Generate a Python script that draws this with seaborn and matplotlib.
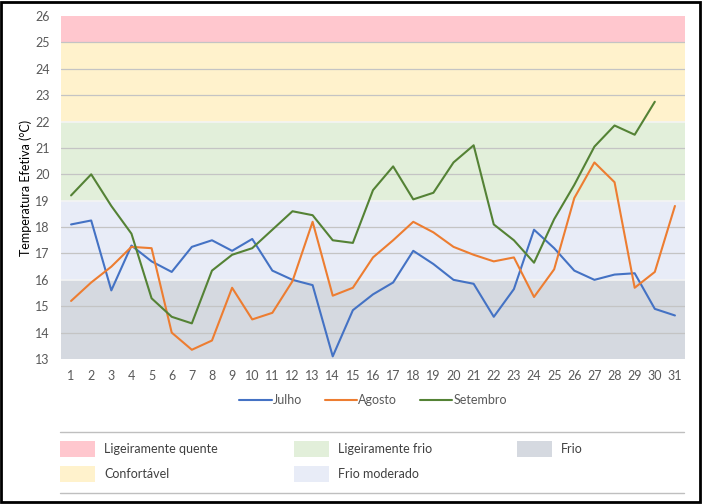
import numpy as np
import pandas as pd
import matplotlib
matplotlib.use('Agg')
import matplotlib.pyplot as plt
import seaborn as sns
from matplotlib.patches import Rectangle
from matplotlib.lines import Line2D

# -------------------------------------------------------
# DATA
# -------------------------------------------------------
days = list(range(1, 32))

julho = [18.1, 18.25, 15.6, 17.3, 16.7, 16.3, 17.25, 17.5, 17.1, 17.55,
         16.35, 16.0, 15.8, 13.1, 14.85, 15.45, 15.9, 17.1, 16.6, 16.0,
         15.85, 14.6, 15.65, 17.9, 17.2, 16.35, 16.0, 16.2, 16.25, 14.9, 14.65]

agosto = [15.2, 15.9, 16.5, 17.25, 17.2, 14.0, 13.35, 13.7, 15.7, 14.5,
          14.75, 15.95, 18.2, 15.4, 15.7, 16.85, 17.5, 18.2, 17.8, 17.25,
          16.95, 16.7, 16.85, 15.35, 16.4, 19.1, 20.45, 19.7, 15.7, 16.3, 18.8]

setembro = [19.2, 20.0, 18.8, 17.75, 15.3, 14.6, 14.35, 16.35, 16.95, 17.2,
            17.9, 18.6, 18.45, 17.5, 17.4, 19.4, 20.3, 19.05, 19.3, 20.45,
            21.1, 18.1, 17.5, 16.65, 18.3, 19.6, 21.05, 21.85, 21.5, 22.75, np.nan]

months = ['Julho', 'Agosto', 'Setembro']
month_colors = ['#4472C4', '#ED7D31', '#548235']

band_names = ['Ligeiramente quente', 'Confortável', 'Ligeiramente frio',
              'Frio moderado', 'Frio']
band_low = [25, 22, 19, 16, 13]
band_high = [26, 25, 22, 19, 16]
band_colors = ['#FFC7CE', '#FFF2CC', '#E2EFDA', '#E8ECF7', '#D5D9E0']

df = pd.DataFrame({'Dia': days * 3,
                   'Temp': julho + agosto + setembro,
                   'Mes': np.repeat(months, len(days))})

# -------------------------------------------------------
# PLOT
# -------------------------------------------------------
sns.set_style('white')
plt.rcParams['font.family'] = ['Lato', 'DejaVu Sans']

W, H = 702, 504
fig = plt.figure(figsize=(W/100, H/100), dpi=100)
ax = fig.add_axes([61/W, 1 - 359/H, (685 - 61)/W, (359 - 16)/H])

for lo, hi, c in zip(band_low, band_high, band_colors):
    ax.axhspan(lo, hi, color=c, lw=0, zorder=0)

for yv in range(14, 26):
    if yv in (22, 19, 16):
        ax.axhline(yv, color='#F4F4F4', lw=1.2, zorder=1)
    else:
        ax.axhline(yv, color='#C4C4C4', lw=0.9, zorder=1)

sns.lineplot(data=df, x='Dia', y='Temp', hue='Mes', palette=month_colors,
             hue_order=months, lw=1.5, ax=ax, zorder=3)

ax.set_xlim(0.5, 31.5)
ax.set_ylim(13, 26)
ax.set_xticks(days)
ax.set_yticks(range(13, 27))
ax.tick_params(axis='both', length=0, labelsize=9, colors='#595959', pad=8)
ax.set_xlabel('')
ax.set_ylabel('Temperatura Efetiva (°C)', fontsize=9, color='black', labelpad=2)
for s in ax.spines.values():
    s.set_visible(False)

sns.move_legend(ax, 'center', bbox_to_anchor=(0.5, 1 - (400 - 16)/343),
                ncol=3, frameon=False, title=None, fontsize=9,
                handlelength=2.6, handletextpad=0.1, columnspacing=1.8,
                labelcolor='#595959')

# band legend below (3 columns, filled column-wise)
col_x = [60, 294, 517]
row_y = [449, 474]
for i, (name, c) in enumerate(zip(band_names, band_colors)):
    cx = col_x[i // 2]
    ry = row_y[i % 2]
    fig.add_artist(Rectangle((cx/W, 1 - (ry + 8)/H), 35/W, 16/H,
                             facecolor=c, edgecolor='none',
                             transform=fig.transFigure))
    fig.text((cx + 44)/W, 1 - ry/H, name, fontsize=9, color='#404040',
             va='center', ha='left')

for yy in (432, 493):
    fig.add_artist(Line2D([60/W, 684/W], [1 - yy/H, 1 - yy/H],
                          color='#BFBFBF', lw=1, transform=fig.transFigure))

fig.add_artist(Rectangle((0.002, 0.003), 0.995, 0.994, fill=False,
                         edgecolor='black', lw=2, transform=fig.transFigure))

plt.savefig('out.png', dpi=100)
plt.close()
